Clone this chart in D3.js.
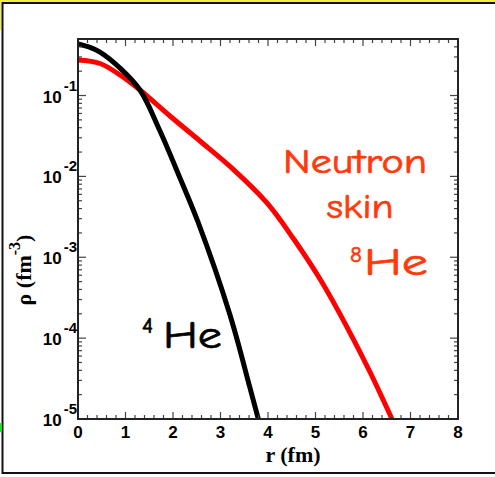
<!DOCTYPE html>
<html><head><meta charset="utf-8">
<script src="https://cdn.jsdelivr.net/npm/d3@7"></script>
<style>
html,body{margin:0;padding:0;background:#fff;}
svg{display:block;}
</style>
</head><body>
<script>
// Data
const he4R   = [0, 0.253, 0.463, 0.884, 1.305, 1.726, 2.147, 2.526, 3.2, 3.621, 3.796];
const he4Rho = [0.434, 0.394, 0.345, 0.219, 0.117, 0.0364, 0.00955, 0.00273, 1.93e-4, 2.42e-5, 1.0e-5];
const he8R   = [0, 0.463, 0.884, 1.305, 1.937, 2.568, 3.263, 3.979, 4.526, 5.095, 5.663, 6.147, 6.61];
const he8Rho = [0.275, 0.249, 0.1795, 0.117, 0.0558, 0.0274, 0.01233, 0.00469, 0.00173, 5.38e-4, 1.37e-4, 3.81e-5, 1.0e-5];
const xTicks = [0, 1, 2, 3, 4, 5, 6, 7, 8];
const yDecades = [-5, -4, -3, -2, -1];
const xLabel = "r (fm)";
const yLabel = "ρ (fm";
const yLabelExp = "-3";
const yLabelEnd = ")";

const W = 495, H = 477;
const svg = d3.select("body").append("svg").attr("width", W).attr("height", H);

// outer slide frame
svg.append("rect").attr("x", 0).attr("y", 0).attr("width", W).attr("height", 2.5).attr("fill", "#f0f040");
svg.append("rect").attr("x", 0).attr("y", 0).attr("width", 1).attr("height", 30).attr("fill", "#f0f040");
svg.append("rect").attr("x", 2.5).attr("y", 3).attr("width", W + 10).attr("height", 470)
  .attr("fill", "none").attr("stroke", "#111").attr("stroke-width", 2);
svg.append("rect").attr("x", 0).attr("y", 423).attr("width", 2).attr("height", 9).attr("fill", "#22dd22");

const x = d3.scaleLinear().domain([0, 8]).range([78, 458]);
const y = d3.scaleLog().domain([1e-5, 0.5]).range([419, 39]);

const [x0, x1] = x.range();
const [y0, y1] = y.range();

svg.append("defs").append("clipPath").attr("id", "clip")
  .append("rect").attr("x", x0).attr("y", y1).attr("width", x1 - x0).attr("height", y0 - y1);

// curves
const line = d3.line().x(d => x(d[0])).y(d => y(d[1])).curve(d3.curveCatmullRom.alpha(0.5));
const g = svg.append("g").attr("clip-path", "url(#clip)");
g.append("path").datum(he8R.map((r, i) => [r, he8Rho[i]]))
  .attr("d", line).attr("fill", "none").attr("stroke", "#ff0000").attr("stroke-width", 5);
g.append("path").datum(he4R.map((r, i) => [r, he4Rho[i]]))
  .attr("d", line).attr("fill", "none").attr("stroke", "#000").attr("stroke-width", 5);

// ticks
const tickCol = "#444";
const ax = svg.append("g");
const xMinor = d3.range(0, 8.0001, 0.2);
xMinor.forEach(v => {
  const major = Math.abs(v - Math.round(v)) < 1e-6;
  const len = major ? 7 : 4;
  ax.append("line").attr("x1", x(v)).attr("x2", x(v)).attr("y1", y0).attr("y2", y0 - len)
    .attr("stroke", tickCol).attr("stroke-width", 1.2);
  ax.append("line").attr("x1", x(v)).attr("x2", x(v)).attr("y1", y1).attr("y2", y1 + len)
    .attr("stroke", tickCol).attr("stroke-width", 1.2);
});
const yMinor = [];
yDecades.forEach(d => { for (let k = 1; k <= 9; k++) { const v = k * Math.pow(10, d); if (v <= 0.5) yMinor.push([v, k === 1]); } });
yMinor.forEach(([v, major]) => {
  const len = major ? 8 : 4;
  ax.append("line").attr("x1", x0).attr("x2", x0 + len).attr("y1", y(v)).attr("y2", y(v))
    .attr("stroke", tickCol).attr("stroke-width", 1.2);
  ax.append("line").attr("x1", x1).attr("x2", x1 - len).attr("y1", y(v)).attr("y2", y(v))
    .attr("stroke", tickCol).attr("stroke-width", 1.2);
});

// axis box
svg.append("rect").attr("x", x0).attr("y", y1).attr("width", x1 - x0).attr("height", y0 - y1)
  .attr("fill", "none").attr("stroke", "#222").attr("stroke-width", 2);

// x tick labels
const lblFont = "'Liberation Sans', Arial, sans-serif";
xTicks.forEach(v => {
  svg.append("text").attr("x", x(v)).attr("y", 438).attr("text-anchor", "middle")
    .attr("font-family", lblFont).attr("font-weight", "bold").attr("font-size", 17)
    .attr("fill", "#000").text(v);
});
// y tick labels
yDecades.forEach(d => {
  const t = svg.append("text").attr("x", 77).attr("y", y(Math.pow(10, d)) + 7).attr("text-anchor", "end")
    .attr("font-family", lblFont).attr("font-weight", "bold").attr("font-size", 17).attr("fill", "#000");
  t.append("tspan").text("10");
  t.append("tspan").attr("dy", -12).attr("dx", 2).attr("font-size", 15).text(String(d));
});

// axis titles
svg.append("text").attr("x", 293).attr("y", 462).attr("text-anchor", "middle")
  .attr("font-family", "'Liberation Serif', 'Times New Roman', serif").attr("font-weight", "bold")
  .attr("font-size", 22).attr("fill", "#000").text(xLabel);
const yt = svg.append("text").attr("transform", "translate(31,270) rotate(-90)").attr("text-anchor", "middle")
  .attr("font-family", "'Liberation Serif', 'Times New Roman', serif").attr("font-weight", "bold")
  .attr("font-size", 22).attr("fill", "#000");
yt.append("tspan").text(yLabel);
yt.append("tspan").attr("dy", -11).attr("font-size", 16).text(yLabelExp);
yt.append("tspan").attr("dy", 11).text(yLabelEnd);

// annotations
const annFont = "'Comic Sans MS', 'Comic Neue', 'DejaVu Sans', sans-serif";
const orange = "#ff3a0a";
function ann(txt, xx, yy, size, col, len, anchor) {
  const t = svg.append("text").attr("x", xx).attr("y", yy)
    .attr("font-family", annFont).attr("font-size", size).attr("fill", col)
    .attr("stroke", col).attr("stroke-width", 0.7)
    .attr("text-anchor", anchor || "start").text(txt);
  if (len) t.attr("textLength", len).attr("lengthAdjust", "spacingAndGlyphs");
  return t;
}
ann("Neutron", 355, 173, 35, orange, 144, "middle");
ann("skin", 360, 218, 35, orange, 67, "middle");
ann("8", 350, 262, 23, orange, null);
ann("He", 364, 275, 39, orange, 64);
ann("4", 142, 333, 23, "#000", null);
ann("He", 163, 348, 39, "#000", 59);
</script>
</body></html>
